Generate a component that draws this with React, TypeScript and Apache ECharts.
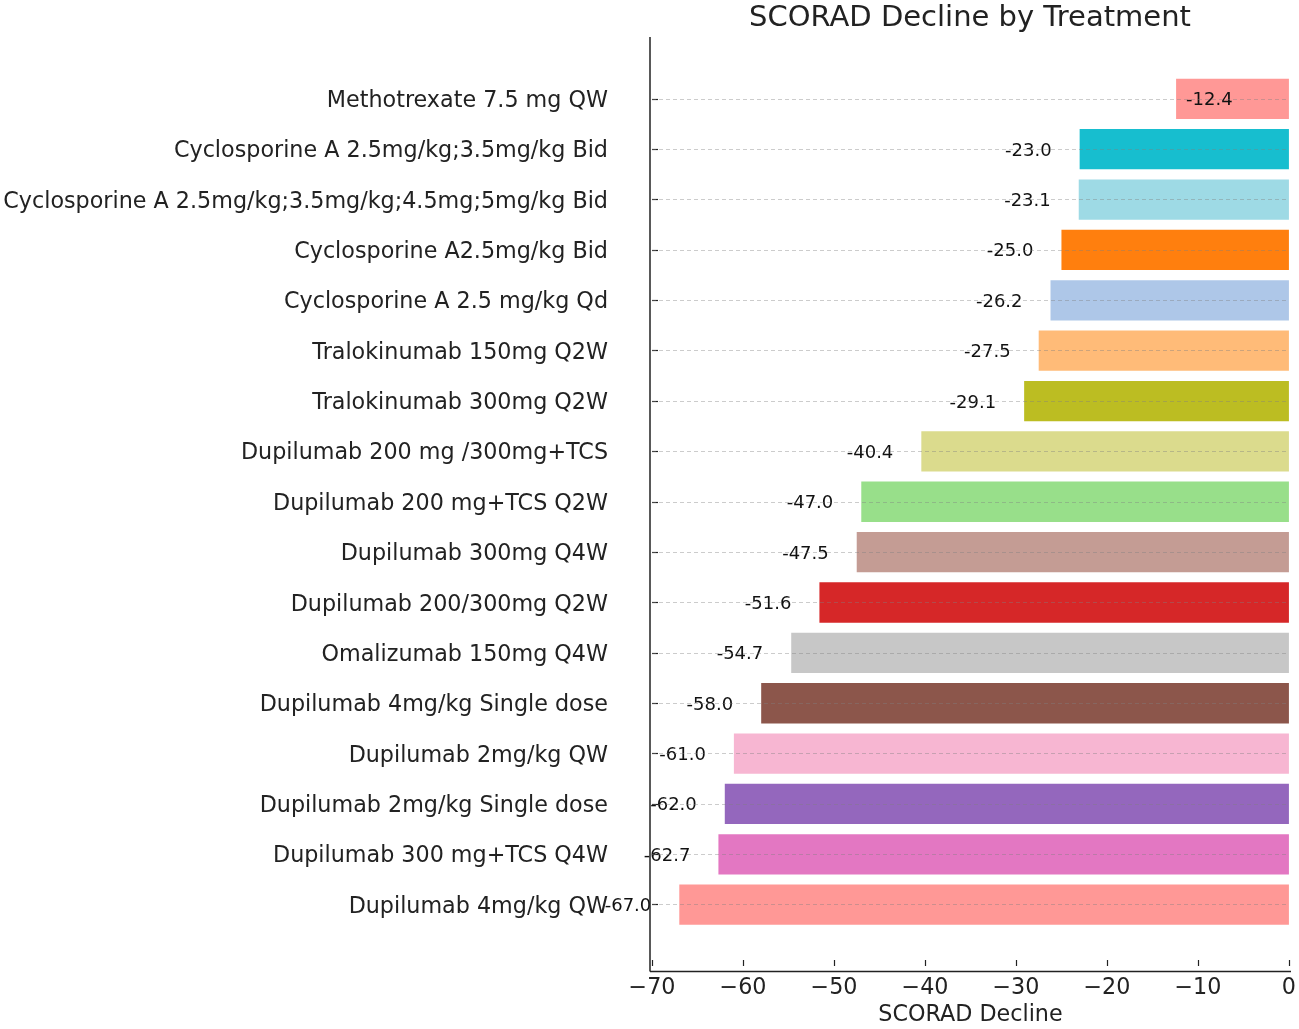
import React, { useEffect, useRef } from "react";
import * as echarts from "echarts";

const categories = [
  "Methotrexate 7.5 mg QW",
  "Cyclosporine A 2.5mg/kg;3.5mg/kg Bid",
  "Cyclosporine A 2.5mg/kg;3.5mg/kg;4.5mg;5mg/kg Bid",
  "Cyclosporine A2.5mg/kg Bid",
  "Cyclosporine A 2.5 mg/kg Qd",
  "Tralokinumab 150mg Q2W",
  "Tralokinumab 300mg Q2W",
  "Dupilumab 200 mg /300mg+TCS",
  "Dupilumab 200 mg+TCS Q2W",
  "Dupilumab 300mg Q4W",
  "Dupilumab 200/300mg Q2W",
  "Omalizumab 150mg Q4W",
  "Dupilumab 4mg/kg Single dose",
  "Dupilumab 2mg/kg QW",
  "Dupilumab 2mg/kg Single dose",
  "Dupilumab 300 mg+TCS Q4W",
  "Dupilumab 4mg/kg QW",
];

const values = [
  -12.4, -23.0, -23.1, -25.0, -26.2, -27.5, -29.1, -40.4, -47.0, -47.5, -51.6,
  -54.7, -58.0, -61.0, -62.0, -62.7, -67.0,
];

const colors = [
  "#ff9896", "#17becf", "#9edae5", "#ff7f0e", "#aec7e8", "#ffbb78", "#bcbd22",
  "#dbdb8d", "#98df8a", "#c49c94", "#d62728", "#c7c7c7", "#8c564b", "#f7b6d2",
  "#9467bd", "#e377c2", "#ff9896",
];

const FONT = "DejaVu Sans";

export default function App() {
  const ref = useRef<HTMLDivElement>(null);
  useEffect(() => {
    if (!ref.current) return;
    const chart = echarts.init(ref.current, null, { renderer: "svg" });
    const gridLeft = 652;
    const gridRight = 9;
    const band = 50.69;
    const gridTop = 99 - band / 2;
    const gridHeight = band * categories.length;
    const axisY = 971.5;
    const offset = axisY - (gridTop + gridHeight);
    chart.setOption({
      animation: false,
      textStyle: { fontFamily: FONT },
      grid: { left: gridLeft, right: gridRight, top: gridTop, height: gridHeight, containLabel: false },
      xAxis: {
        type: "value",
        min: -70,
        max: 0,
        interval: 10,
        offset,
        axisLine: { show: false, onZero: false },
        axisTick: { show: true, inside: true, length: 6, lineStyle: { color: "#222", width: 1.2 } },
        splitLine: { show: false },
        axisLabel: {
          fontSize: 22.25,
          color: "#222",
          fontFamily: FONT,
          margin: 9,
          formatter: (v: number) => String(v).replace("-", "\u2212"),
        },
        name: "SCORAD Decline",
        nameLocation: "middle",
        nameGap: 36,
        nameTextStyle: { fontSize: 22.25, color: "#222", fontFamily: FONT },
      },
      yAxis: {
        type: "category",
        data: categories,
        inverse: true,
        position: "left",
        axisLine: { show: false, onZero: false },
        axisTick: { show: true, inside: true, alignWithLabel: true, length: 6, lineStyle: { color: "#222", width: 1.2 } },
        axisLabel: { fontSize: 22.25, color: "#222", fontFamily: FONT, margin: 44 },
        splitLine: { show: false },
      },
      series: [
        {
          type: "bar",
          barWidth: "80%",
          data: values.map((v, i) => ({
            value: v,
            itemStyle: { color: colors[i] },
            label:
              i === 0
                ? { position: "insideLeft", distance: 10 }
                : undefined,
          })),
          label: {
            show: true,
            position: "left",
            distance: 28,
            fontSize: 18,
            color: "#111",
            fontFamily: FONT,
            formatter: (p: any) => Number(p.value).toFixed(1),
          },
          markLine: {
            silent: true,
            symbol: "none",
            label: { show: false },
            lineStyle: { type: [4, 3], color: "rgba(128,128,128,0.4)", width: 1 },
            data: categories.map((c) => ({ yAxis: c })),
          },
        },
      ],
      graphic: [
        {
          type: "line",
          shape: { x1: 650, y1: 37, x2: 650, y2: axisY },
          style: { stroke: "#222", lineWidth: 1.5 },
          z: 100,
        },
        {
          type: "line",
          shape: { x1: 650, y1: axisY, x2: 1291, y2: axisY },
          style: { stroke: "#222", lineWidth: 1.5 },
          z: 100,
        },
        {
          type: "text",
          x: 970,
          y: 16,
          style: {
            text: "SCORAD Decline by Treatment",
            fontSize: 29,
            fontFamily: FONT,
            fill: "#222",
            align: "center",
            verticalAlign: "middle",
          },
        },
      ],
    });
    return () => chart.dispose();
  }, []);
  return (
    <div
      ref={ref}
      style={{ position: "fixed", left: 0, top: 0, width: 1299, height: 1029 }}
    />
  );
}
